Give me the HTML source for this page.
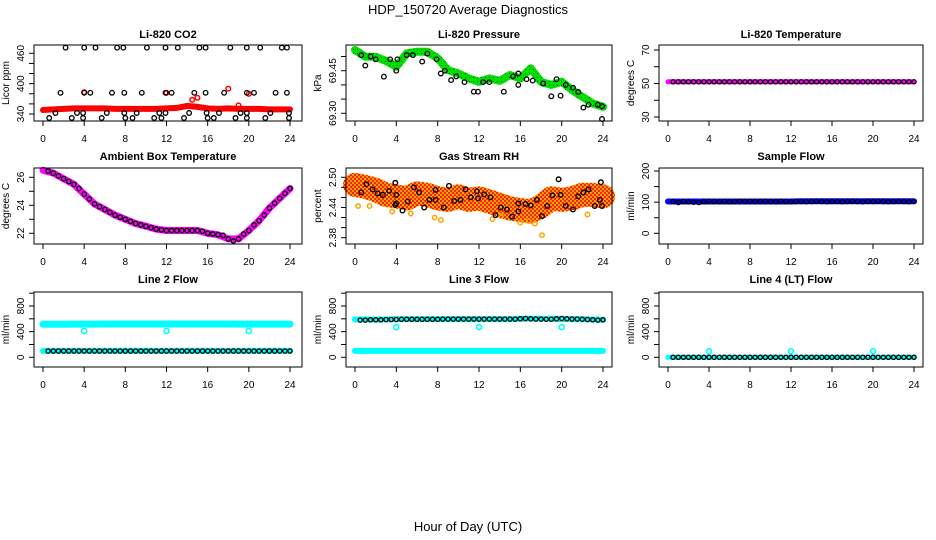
<!DOCTYPE html>
<html><head><meta charset="utf-8"><style>
html,body{margin:0;padding:0;background:#fff;}
svg{display:block;font-family:"Liberation Sans",sans-serif;}
</style></head><body>
<svg id="c" width="936" height="540" viewBox="0 0 936 540" xmlns="http://www.w3.org/2000/svg">
<defs>
<pattern id="rhpat" width="4" height="4" patternUnits="userSpaceOnUse"><rect width="4" height="4" fill="#ffa500"/><rect width="2" height="2" fill="#ff2000"/><rect x="2" y="2" width="2" height="2" fill="#ff2000"/></pattern>
<pattern id="grpat" width="4" height="4" patternUnits="userSpaceOnUse"><rect width="4" height="4" fill="#00e000"/><rect x="1" y="1" width="1" height="1" fill="#006000"/></pattern>
</defs>
<text x="468" y="14" text-anchor="middle" font-size="13">HDP_150720  Average Diagnostics</text>
<text x="468" y="531" text-anchor="middle" font-size="13">Hour of Day (UTC)</text>
</svg>
<script>
const HOURS=[0,1,2,3,4,5,6,7,8,9,10,11,12,13,14,15,16,17,18,19,20,21,22,23,24];
const T48=[0.5,1,1.5,2,2.5,3,3.5,4,4.5,5,5.5,6,6.5,7,7.5,8,8.5,9,9.5,10,10.5,11,11.5,12,12.5,13,13.5,14,14.5,15,15.5,16,16.5,17,17.5,18,18.5,19,19.5,20,20.5,21,21.5,22,22.5,23,23.5,24];
const X_TICKS=[0,4,8,12,16,20,24];
// CO2
const CO2_RED=[348,349,350,351,351,351,351,350,350,350,350,350,351,352,356,354,351,350,351,350,350,350,349,349,349];
const CO2_RED_OUT_T=[4,12,14.5,15,18,19,20];
const CO2_RED_OUT_V=[383,382,368,372,390,357,380];
const CO2_BLK_T=[2.2,4,5.1,7.2,7.8,10.1,11.9,13.1,15.2,15.8,18.2,19.8,21.1,23.2,23.7,1.7,4.0,4.6,6.7,7.9,9.6,11.9,12.5,14.7,15.8,17.6,19.8,20.5,22.6,23.7,1.2,3.3,3.9,6.2,7.9,9.1,11.3,11.9,14.2,15.9,17.1,19.2,19.8,22.1,23.9,0.6,2.8,3.9,5.7,8.0,8.7,10.8,11.5,13.7,16.0,16.6,18.7,19.8,21.6,23.9];
const CO2_BLK_V=[471,471,471,471,471,471,471,471,471,471,471,471,471,471,471,382,382,382,382,382,382,382,382,382,382,382,382,382,382,382,342,342,342,342,342,342,342,342,342,342,342,342,342,342,342,332,332,332,332,332,332,332,332,332,332,332,332,332,332,332];
// Pressure
const PRES_GRN=[69.523,69.499,69.499,69.484,69.464,69.511,69.517,69.517,69.494,69.452,69.44,69.423,69.411,69.423,69.414,69.435,69.423,69.458,69.411,69.40,69.411,69.382,69.358,69.335,69.323];
const PRES_BLK_T=[0.6,1.0,1.5,2.0,2.8,3.4,4.0,4.1,5.0,5.6,6.5,7.0,7.9,8.3,8.7,9.3,9.8,10.6,11.5,11.9,12.4,13.0,14.4,15.3,15.8,15.8,16.6,17.2,18.2,19.0,19.5,19.9,20.4,21.1,21.6,22.1,22.6,23.5,23.9,23.9];
const PRES_BLK_V=[69.505,69.468,69.50,69.49,69.429,69.49,69.45,69.49,69.505,69.505,69.482,69.51,69.49,69.44,69.45,69.417,69.43,69.41,69.376,69.376,69.41,69.41,69.376,69.43,69.44,69.40,69.42,69.415,69.405,69.36,69.42,69.362,69.40,69.39,69.375,69.32,69.33,69.33,69.28,69.325];
// Li-820 Temperature
const LT_MAG=[51,51,51,51,51,51,51,51,51,51,51,51,51,51,51,51,51,51,51,51,51,51,51,51,51];
const LT_BLK=[51,51,51,51,51,51,51,51,51,51,51,51,51,51,51,51,51,51,51,51,51,51,51,51,51,51,51,51,51,51,51,51,51,51,51,51,51,51,51,51,51,51,51,51,51,51,51,51];
// Ambient
const AMB_MAG=[26.5,26.3,25.9,25.5,24.8,24.1,23.7,23.3,23.0,22.7,22.5,22.3,22.2,22.2,22.2,22.2,22.0,21.9,21.6,21.6,22.2,22.9,23.8,24.5,25.2];
const AMB_BLK=[26.45,26.3,26.1,25.9,25.7,25.5,25.2,24.8,24.45,24.1,23.9,23.7,23.5,23.3,23.15,23.0,22.85,22.7,22.6,22.5,22.4,22.3,22.25,22.2,22.2,22.2,22.2,22.2,22.2,22.2,22.15,22.0,21.95,21.9,21.85,21.6,21.45,21.6,21.95,22.2,22.6,22.9,23.3,23.8,24.15,24.5,24.85,25.2];
// RH
const RH_BAND=[2.485,2.481,2.475,2.465,2.462,2.458,2.468,2.465,2.458,2.455,2.462,2.455,2.458,2.452,2.445,2.438,2.435,2.432,2.442,2.458,2.455,2.458,2.465,2.465,2.462];
const RH_OUT_T=[0.3,1.4,3.6,5.4,7.7,8.3,13.3,14.1,16.0,16.8,17.4,18.1,22.5];
const RH_OUT_V=[2.443,2.443,2.432,2.428,2.42,2.415,2.417,2.423,2.41,2.413,2.408,2.385,2.426];
const RH_BLK_T=[0.6,1.1,1.7,2.2,2.7,3.3,3.9,4.0,3.9,4.0,4.6,5.1,5.7,6.2,6.7,7.2,7.8,7.8,8.6,9.1,9.6,10.2,10.7,11.2,11.8,11.9,12.5,13.1,13.6,14.1,14.7,15.2,15.8,15.8,16.5,17.0,17.6,18.1,18.6,19.1,19.7,19.9,20.4,21.1,21.6,22.1,22.6,23.2,23.7,23.8,23.9];
const RH_BLK_V=[2.470,2.486,2.476,2.468,2.465,2.473,2.489,2.465,2.445,2.448,2.434,2.452,2.480,2.470,2.440,2.455,2.475,2.455,2.440,2.483,2.453,2.455,2.476,2.460,2.472,2.458,2.466,2.460,2.425,2.440,2.436,2.422,2.448,2.432,2.447,2.444,2.455,2.423,2.443,2.464,2.496,2.465,2.443,2.436,2.462,2.470,2.476,2.443,2.455,2.490,2.443];
// Sample flow
const SF_BLUE=[102,102,102,102,102,102,102,102,102,102,102,102,102,103,103,103,103,103,103,103,103,103,103,103,103];
const SF_BLK=[102,99,102,101,100,99,101,103,102,101,102,101,102,103,102,103,101,102,103,102,101,103,102,101,102,102,101,102,103,102,101,102,102,101,102,103,102,101,102,102,103,102,101,102,103,102,101,102];
// Line 2 flow
const L2_CYAN_HI=[515,515,515,517,517,517,520,520,520,520,520,520,520,520,520,520,520,520,520,518,518,518,518,518,518];
const L2_CYAN_LO=[100,100,100,100,100,100,100,100,100,100,100,100,100,100,100,100,100,100,100,100,100,100,100,100,100];
const L2_OUT_T=[4,12,20];
const L2_OUT_V=[410,410,410];
const L2_BLK=[98,98,98,98,98,98,98,98,98,98,98,98,98,98,98,98,98,98,98,98,98,98,98,98,98,98,98,98,98,98,98,98,98,98,98,98,98,98,98,98,98,98,98,98,98,98,98,98];
// Line 3 flow
const L3_CYAN_HI=[590,590,590,590,595,595,595,595,595,595,595,595,595,595,595,595,600,600,600,600,595,595,595,590,585];
const L3_CYAN_LO=[100,100,100,100,100,100,100,100,100,100,100,100,100,100,100,100,100,100,100,100,100,100,100,100,100];
const L3_OUT_T=[4,12,20];
const L3_OUT_V=[470,470,470];
const L3_BLK=[580,580,585,585,585,590,590,590,592,592,592,592,592,592,592,592,595,595,595,595,595,595,595,595,595,595,595,595,595,595,595,600,605,600,598,596,594,594,600,605,600,598,596,594,590,585,580,585];
// Line 4 flow
const L4_CYAN=[0,0,0,0,0,0,0,0,0,0,0,0,0,0,0,0,0,0,0,0,0,0,0,0,0];
const L4_OUT_T=[4,12,20];
const L4_OUT_V=[95,95,95];
const L4_BLK=[0,0,0,0,0,0,0,0,0,0,0,0,0,0,0,0,0,0,0,0,0,0,0,0,0,0,0,0,0,0,0,0,0,0,0,0,0,0,0,0,0,0,0,0,0,0,0,0];

const svg=document.getElementById('c');
const NS='http://www.w3.org/2000/svg';
function mk(tag,attrs,parent){const e=document.createElementNS(NS,tag);for(const k in attrs)e.setAttribute(k,attrs[k]);(parent||svg).appendChild(e);return e;}
const COLS=[{l:34,r:302,x0:43,x24:290},{l:346,r:612,x0:355,x24:603},{l:659,r:923,x0:668,x24:914}];
const ROWS=[{t:45,b:121,ty:38},{t:168,b:244,ty:160},{t:292,b:367,ty:283}];

// pmin = pixel of ymin, pmax = pixel of ymax
function panel(ci,ri,name,title,ylab,ymin,ymax,pmin,pmax,ticks,labels){
  const C=COLS[ci],R=ROWS[ri];
  const g=mk('g',{});
  
  
  const xs=h=>C.x0+(C.x24-C.x0)*h/24;
  const ys=v=>pmin+(pmax-pmin)*(v-ymin)/(ymax-ymin);
  const t=mk('text',{x:(C.l+C.r)/2,y:R.ty,'text-anchor':'middle','font-size':'11','font-weight':'bold'},g);
  t.textContent=title;
  
  
  const plot=mk('g',{},g);
  
  
  const xa=mk('g',{},g);
  
  
  mk('line',{x1:xs(0),x2:xs(24),y1:R.b,y2:R.b,stroke:'#000'},xa);
  X_TICKS.forEach(h=>{
    mk('line',{x1:xs(h),x2:xs(h),y1:R.b,y2:R.b+5,stroke:'#000'},xa);
    const tx=mk('text',{x:xs(h),y:R.b+21,'text-anchor':'middle','font-size':'10'},xa);
    tx.textContent=h;
  });
  const ya=mk('g',{},g);
  
  
  mk('line',{x1:C.l,x2:C.l,y1:ys(ticks[0]),y2:ys(ticks[ticks.length-1]),stroke:'#000'},ya);
  ticks.forEach(v=>mk('line',{x1:C.l-5,x2:C.l,y1:ys(v),y2:ys(v),stroke:'#000'},ya));
  labels.forEach(v=>{
    const yy=ys(parseFloat(v));const xx=C.l-10;
    const tx=mk('text',{x:xx,y:yy,'text-anchor':'middle','font-size':'10',transform:`rotate(-90 ${xx} ${yy})`},ya);
    tx.textContent=v;
  });
  const yl=mk('text',{x:C.l-25,y:(R.t+R.b)/2,'text-anchor':'middle','font-size':'10',transform:`rotate(-90 ${C.l-25} ${(R.t+R.b)/2})`},g);
  yl.textContent=ylab;
  
  
  mk('rect',{x:C.l,y:R.t,width:C.r-C.l,height:R.b-R.t,fill:'none',stroke:'#000'},g);
  return {xs,ys,plot};
}
function band(p,ts,vs,color,w,name){
  const pts=ts.map((t,i)=>p.xs(t).toFixed(1)+','+p.ys(vs[i]).toFixed(1)).join(' ');
  const l=mk('polyline',{points:pts,fill:'none',stroke:color,'stroke-width':w,'stroke-linejoin':'round','stroke-linecap':'round'},p.plot);
  
  
}
function pts(p,ts,vs,color,r,sw,name){
  const g=mk('g',{},p.plot);
  
  
  ts.forEach((t,i)=>{mk('circle',{cx:p.xs(t).toFixed(1),cy:p.ys(vs[i]).toFixed(1),r:r,fill:'none',stroke:color,'stroke-width':sw},g);});
}
const BK='#000';
let p;
p=panel(0,0,'co2','Li-820 CO2','Licor ppm',340,460,114,53.3,[340,360,380,400,420,440,460],['340','400','460']);
band(p,HOURS,CO2_RED,'#ff0000',6,'co2-red-series');
pts(p,CO2_RED_OUT_T,CO2_RED_OUT_V,'#ff0000',2.3,1.5,'co2-red-outliers');
pts(p,CO2_BLK_T,CO2_BLK_V,BK,2.3,1.3,'co2-black-points');

p=panel(1,0,'pressure','Li-820 Pressure','kPa',69.30,69.45,113.3,70.7,[69.30,69.35,69.40,69.45,69.50],['69.30','69.45']);
band(p,HOURS,PRES_GRN,'url(#grpat)',8,'pressure-green-series');
pts(p,PRES_BLK_T,PRES_BLK_V,BK,2.3,1.3,'pressure-black-points');

p=panel(2,0,'li820-temp','Li-820 Temperature','degrees C',30,70,117,50,[30,40,50,60,70],['30','50','70']);
band(p,HOURS,LT_MAG,'#ff00ff',5,'li820-temp-magenta-series');
pts(p,T48,LT_BLK,BK,2.1,1.2,'li820-temp-black-points');

p=panel(0,1,'ambient-temp','Ambient Box Temperature','degrees C',22,26,233.3,177.3,[22,23,24,25,26],['22','24','26']);
band(p,HOURS,AMB_MAG,'#ff00ff',7,'ambient-magenta-series');
pts(p,T48,AMB_BLK,BK,2.2,1.3,'ambient-black-points');

p=panel(1,1,'gas-rh','Gas Stream RH','percent',2.38,2.50,237.7,177.3,[2.38,2.40,2.42,2.44,2.46,2.48,2.50],['2.38','2.44','2.50']);
band(p,HOURS,RH_BAND,'url(#rhpat)',24,'rh-orange-series');
pts(p,RH_OUT_T,RH_OUT_V,'#ffa500',2.2,1.5,'rh-orange-outliers');
pts(p,RH_BLK_T,RH_BLK_V,BK,2.3,1.4,'rh-black-points');

p=panel(2,1,'sample-flow','Sample Flow','ml/min',0,200,233.3,171,[0,50,100,150,200],['0','100','200']);
band(p,HOURS,SF_BLUE,'#0000ff',6,'sample-flow-blue-series');
pts(p,T48,SF_BLK,BK,2.1,1.3,'sample-flow-black-points');

p=panel(0,2,'line2-flow','Line 2 Flow','ml/min',0,800,357.3,306,[0,200,400,600,800,1000],['0','400','800']);
band(p,HOURS,L2_CYAN_HI,'#00ffff',7,'line2-cyan-high-series');
band(p,HOURS,L2_CYAN_LO,'#00ffff',6,'line2-cyan-low-series');
pts(p,L2_OUT_T,L2_OUT_V,'#00ffff',2.5,1.6,'line2-cyan-outliers');
pts(p,T48,L2_BLK,BK,2.1,1.3,'line2-black-points');

p=panel(1,2,'line3-flow','Line 3 Flow','ml/min',0,800,357.3,306,[0,200,400,600,800,1000],['0','400','800']);
band(p,HOURS,L3_CYAN_HI,'#00ffff',6,'line3-cyan-high-series');
band(p,HOURS,L3_CYAN_LO,'#00ffff',6,'line3-cyan-low-series');
pts(p,L3_OUT_T,L3_OUT_V,'#00ffff',2.5,1.6,'line3-cyan-outliers');
pts(p,T48,L3_BLK,BK,2.1,1.3,'line3-black-points');

p=panel(2,2,'line4-flow','Line 4 (LT) Flow','ml/min',0,800,357.3,306,[0,200,400,600,800,1000],['0','400','800']);
band(p,HOURS,L4_CYAN,'#00ffff',5,'line4-cyan-series');
pts(p,L4_OUT_T,L4_OUT_V,'#00ffff',2.5,1.6,'line4-cyan-outliers');
pts(p,T48,L4_BLK,BK,2.1,1.3,'line4-black-points');
</script>
</body></html>
